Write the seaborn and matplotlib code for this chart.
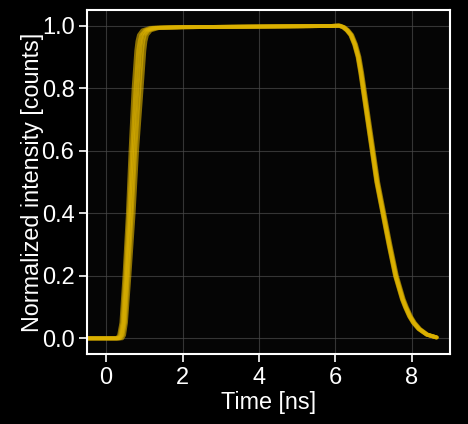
import pandas as pd
import seaborn as sns
import matplotlib.pyplot as plt
import numpy as np

## Style
sns.set_theme(style="dark")
plt.rcParams["font.family"] = ["Liberation Sans", "DejaVu Sans"]
TRACE_COLOR = "#DDB200"

## Data: normalized pulse traces
# rising edge, shared intensity levels, one time list per trace
rise_levels = [0.0, 0.0, 0.01, 0.05, 0.2, 0.4, 0.6, 0.8, 0.92, 0.95, 0.97, 0.985, 0.993]
rise_times = [
    [-0.5, 0.28, 0.34, 0.40, 0.48, 0.57, 0.64, 0.72, 0.79, 0.82, 0.86, 0.95, 1.15],
    [-0.5, 0.31, 0.37, 0.43, 0.51, 0.60, 0.68, 0.77, 0.84, 0.88, 0.92, 1.02, 1.22],
    [-0.5, 0.34, 0.40, 0.46, 0.54, 0.64, 0.72, 0.82, 0.89, 0.92, 0.96, 1.06, 1.28],
    [-0.5, 0.37, 0.43, 0.49, 0.57, 0.67, 0.76, 0.87, 0.94, 0.97, 1.01, 1.11, 1.34],
    [-0.5, 0.42, 0.47, 0.52, 0.61, 0.72, 0.81, 0.93, 1.00, 1.03, 1.07, 1.17, 1.40],
]

# flat top
flat_times = [2.0, 3.0, 4.0, 5.0, 5.9]
flat_levels = [0.995, 0.996, 0.997, 0.998, 0.999]

# falling edge
fall_levels = [1.0, 0.995, 0.985, 0.97, 0.94, 0.9, 0.85, 0.8, 0.7, 0.6, 0.5, 0.4,
               0.3, 0.2, 0.125, 0.1, 0.07, 0.05, 0.03, 0.012, 0.003]
fall_times = [
    [6.08, 6.19, 6.29, 6.39, 6.49, 6.58, 6.65, 6.71, 6.83, 6.95, 7.07, 7.23,
     7.39, 7.56, 7.74, 7.82, 7.93, 8.03, 8.17, 8.38, 8.63],
    [6.11, 6.22, 6.32, 6.42, 6.52, 6.61, 6.68, 6.74, 6.86, 6.98, 7.10, 7.26,
     7.42, 7.59, 7.77, 7.85, 7.96, 8.06, 8.20, 8.40, 8.65],
    [6.09, 6.20, 6.30, 6.40, 6.50, 6.59, 6.66, 6.72, 6.84, 6.96, 7.08, 7.24,
     7.40, 7.57, 7.75, 7.83, 7.94, 8.04, 8.18, 8.39, 8.64],
    [6.13, 6.24, 6.34, 6.44, 6.54, 6.63, 6.70, 6.76, 6.88, 7.00, 7.12, 7.28,
     7.44, 7.61, 7.79, 7.87, 7.98, 8.08, 8.22, 8.42, 8.66],
    [6.10, 6.21, 6.31, 6.41, 6.51, 6.60, 6.67, 6.73, 6.85, 6.97, 7.09, 7.25,
     7.41, 7.58, 7.76, 7.84, 7.95, 8.05, 8.19, 8.40, 8.65],
]

## Build long dataframe
rows = []
for i, (rt, ft) in enumerate(zip(rise_times, fall_times)):
    t = rt + flat_times + ft
    v = rise_levels + flat_levels + fall_levels
    for tt, vv in zip(t, v):
        rows.append({"trace": f"trace {i + 1}", "Time [ns]": tt, "Intensity": vv})
df = pd.DataFrame(rows)

## Plot
fig = plt.figure(figsize=(4.68, 4.24), dpi=100, facecolor="black")
ax = fig.add_axes([87 / 468, 1 - 354 / 424, 363 / 468, 344 / 424])
ax.set_facecolor("#050505")

sns.lineplot(
    data=df,
    x="Time [ns]",
    y="Intensity",
    hue="trace",
    palette=[TRACE_COLOR] * len(rise_times),
    estimator=None,
    sort=False,
    linewidth=2.8,
    alpha=0.62,
    legend=False,
    ax=ax,
)

ax.set_xlim(-0.5, 9.0)
ax.set_ylim(-0.05, 1.05)
ax.set_xticks([0, 2, 4, 6, 8])
ax.set_yticks([0.0, 0.2, 0.4, 0.6, 0.8, 1.0])
ax.set_yticklabels([f"{v:.1f}" for v in [0.0, 0.2, 0.4, 0.6, 0.8, 1.0]])
ax.grid(True, color="#4a4a4a", linewidth=0.8, alpha=0.7)
ax.set_axisbelow(True)

for s in ax.spines.values():
    s.set_color("white")
    s.set_linewidth(1.5)
ax.tick_params(colors="white", labelsize=17, length=6, width=1.2,
               bottom=True, left=True, direction="out", pad=3)
ax.set_xlabel("Time [ns]", color="white", fontsize=16.8, labelpad=2)
ax.set_ylabel("Normalized intensity [counts]", color="white", fontsize=16.8, labelpad=-2)

fig.savefig("out.png", dpi=100, facecolor="black")
